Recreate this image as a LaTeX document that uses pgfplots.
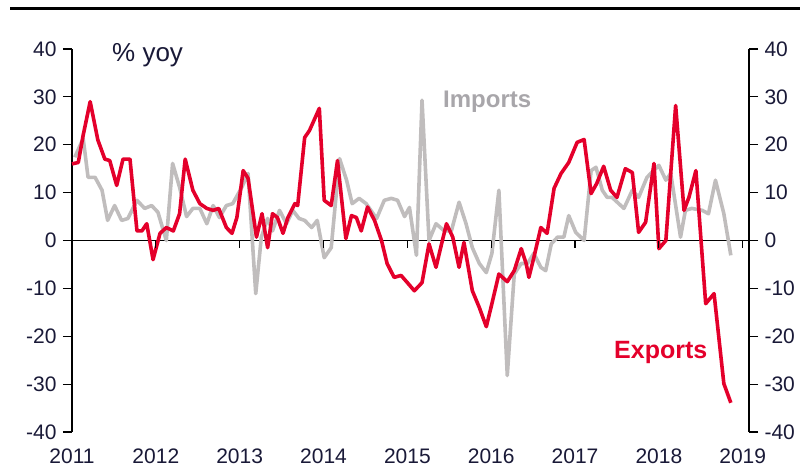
\documentclass[border=0pt]{standalone}
\usepackage{pgfplots}
\pgfplotsset{compat=1.18}
\usepackage{fontspec}
\setmainfont{Liberation Sans}
\definecolor{expred}{RGB}{228,0,43}
\definecolor{impgray}{RGB}{192,189,189}
\definecolor{labgray}{RGB}{168,166,170}
\definecolor{navy}{RGB}{25,25,55}
\begin{document}
\begin{tikzpicture}[x=1pt,y=1pt]
\pgfplotsset{
  common/.style={
    at={(72pt,40pt)}, anchor=south west, scale only axis,
    width=677pt, height=383pt,
    xmin=0, xmax=96.9, ymin=-40, ymax=40,
    ytick={-40,-30,...,40},
    tick align=outside, major tick length=9pt,
    axis line style={-, line width=1.2pt, black},
    major tick style={line width=1.2pt, black},
    tick label style={font=\fontsize{21}{25}\selectfont, text=navy},
    /pgf/number format/assume math mode=true,
    clip=false,
  }
}
\begin{axis}[common,
  axis y line*=left, axis x line*=bottom,
  x axis line style={draw=none},
  xtick={0,12,24,36,48,60,72,84,96},
  xticklabels={2011,2012,2013,2014,2015,2016,2017,2018,2019},
  x tick style={draw=none},
  yticklabel style={xshift=-3pt},
  xticklabel style={yshift=-4pt},
]
\draw[line width=1.2pt] (axis cs:0,0) -- (axis cs:96.9,0);
\coordinate (t1) at (axis cs:12,0);
\coordinate (t2) at (axis cs:24,0);
\coordinate (t3) at (axis cs:36,0);
\coordinate (t4) at (axis cs:48,0);
\coordinate (t5) at (axis cs:60,0);
\coordinate (t6) at (axis cs:72,0);
\coordinate (t7) at (axis cs:84,0);
\coordinate (t8) at (axis cs:96,0);
% Imports
\addplot[impgray, line width=3.6pt, line join=round] coordinates {
(0.4,17.4)(1.6,21.3)(2.3,13.2)(3.3,13.2)(4.3,10.5)(5.1,4.2)(6.1,7.3)(7.1,4.2)(8,4.6)(9.3,8.4)(10.4,6.7)(11.4,7.3)(12.3,5.9)(13.5,0)(14.4,16.1)(15.4,11.1)(16.4,5)(17.3,6.7)(18.3,6.7)(19.3,3.5)(20.2,7.3)(21.1,4.8)(22.1,7.3)(23,7.7)(24.3,11.1)(25.2,14)(26.3,-11.1)(27.1,0.7)(28,4.6)(28.7,2)(29.7,6.3)(30.7,3.5)(31.6,6.3)(32.5,4.6)(33.3,4.2)(34.3,2.7)(35.1,4.2)(36.1,-3.6)(37.1,-1.5)(38.3,17.1)(39.3,12.6)(40.1,7.7)(41.1,8.8)(42.1,7.7)(43.6,4.6)(44.7,8.4)(45.7,8.8)(46.6,8.4)(47.6,5)(48.3,6.9)(49.3,-3.1)(50.1,29.3)(51.1,0)(52.1,3.5)(53.3,2)(54.3,2)(55.4,8)(56.4,3.5)(57.3,-1.5)(58.3,-4.8)(59.3,-6.7)(60.1,-2.7)(61.1,10.5)(62.3,-28.2)(63.3,-7)(64.3,-4.8)(65.2,-4.8)(66.1,-2.7)(67.1,-5.6)(67.8,-6.3)(68.6,-0.7)(69.5,0.7)(70.4,0.7)(71.1,5.2)(72.1,1.7)(73.3,0)(74.3,14.6)(75,15.3)(75.9,10.5)(76.6,9)(77.3,9)(79,6.7)(80.2,10.5)(81.1,9)(82.3,13.2)(84,15.7)(85,12.6)(85.7,14)(87.1,0.7)(87.8,6.3)(88.7,6.7)(90.2,6.3)(91.1,5.6)(92.1,12.6)(93.3,5.6)(94.3,-3.1)
};
% Exports
\addplot[expred, line width=3.6pt, line join=round] coordinates {
(0,16)(0.9,16.3)(1.6,22)(2.6,29)(3.7,21)(4.7,17)(5.4,16.7)(6.4,11.5)(7.3,17)(8.3,17)(9.3,2)(10,2)(10.7,3.5)(11.6,-4)(12.6,1.5)(13.5,2.7)(14.5,2)(15.4,5.6)(16.2,17)(17.3,10.5)(18.3,7.7)(19.3,6.7)(20.2,6.3)(21,6.7)(22.1,2.7)(22.9,1.5)(23.6,4.8)(24.5,14.6)(25.2,13)(26.4,0.7)(27.2,5.6)(28,-1.5)(28.7,5.6)(29.4,4.8)(30.2,1.5)(30.9,4.8)(31.9,7.7)(32.3,7.3)(33.3,21.5)(34,23)(35.4,27.6)(36.1,8.4)(37.1,7.3)(38,16.7)(39.2,0.4)(40,5.2)(40.7,4.8)(41.4,2)(42.3,7)(43.3,4.2)(44.3,0)(45.1,-4.8)(46.1,-7.7)(47.1,-7.3)(48,-8.8)(49,-10.5)(50.1,-8.8)(51.1,-0.7)(52.1,-5.6)(52.9,-0.7)(53.6,3.5)(54.5,0.7)(55.4,-5.6)(56.1,-0.4)(57.3,-10.5)(58.3,-14)(59.3,-18)(60.1,-13.2)(61.1,-7)(62.3,-8.6)(63.3,-6.3)(64.3,-1.7)(65,-4.8)(65.4,-7.7)(66.1,-3.6)(67.1,2.7)(68,1.5)(69,10.9)(70,14)(71.1,16.3)(72.3,20.5)(73.3,21.1)(74.3,9.8)(75.1,11.9)(76.1,15.5)(77.1,10.5)(78,9)(79.2,15)(80.2,14.2)(81.1,1.7)(82.1,3.8)(83.3,16.1)(84,-1.7)(85,0)(86.4,28.2)(87.6,6.3)(88.3,9)(89.3,14.6)(90.7,-13.2)(91.9,-11.1)(93.3,-29.9)(94.3,-33.9)
};
\end{axis}
\begin{axis}[common,
  axis y line*=right, axis x line=none,
  yticklabel style={xshift=3pt},
]
\end{axis}
\foreach \i in {1,...,8} {\draw[line width=1.2pt] (t\i) -- ++(0,-7);}
\draw[line width=3pt] (10,463) -- (800,463);
\node[anchor=base west, inner sep=0pt, font=\fontsize{26}{30}\selectfont, text=navy] at (112,410) {\% yoy};
\node[anchor=base west, inner sep=0pt, font=\fontsize{24}{28}\selectfont\bfseries, text=labgray] at (443,364) {Imports};
\node[anchor=base west, inner sep=0pt, font=\fontsize{25}{29}\selectfont\bfseries, text=expred] at (614,114) {Exports};
\pgfresetboundingbox
\path[use as bounding box] (0,0) rectangle (800,472);
\end{tikzpicture}
\end{document}
